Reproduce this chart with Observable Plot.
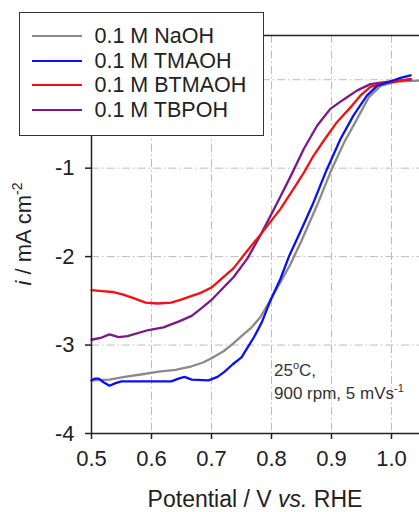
<!DOCTYPE html>
<html>
<head>
<meta charset="utf-8">
<script src="https://cdn.jsdelivr.net/npm/d3@7"></script>
<script src="https://cdn.jsdelivr.net/npm/@observablehq/plot@0.6"></script>
<style>
  body { margin: 0; background: #fff; }
  #wrap { position: relative; width: 419px; height: 512px; overflow: hidden; font-family: Arial, "Liberation Sans", sans-serif; }
  #legend { position: absolute; left: 19px; top: 12px; width: 245px; height: 124px; box-sizing: border-box;
            border: 1.5px solid #333; background: #fff; padding-top: 11px; }
  .row { display: flex; align-items: center; height: 24.5px; }
  .sw { display: inline-block; width: 50px; height: 2.4px; margin-left: 11.5px; margin-right: 13px; }
  .lt { font-size: 21.5px; color: #222; white-space: nowrap; line-height: 24.5px; }
</style>
</head>
<body>
<div id="wrap"><div id="legend"></div></div>
<script>
// ---- data ----
const seriesNames  = ["0.1 M NaOH", "0.1 M TMAOH", "0.1 M BTMAOH", "0.1 M TBPOH"];
const seriesColors = ["#8a8a8a", "#0a10f5", "#f41010", "#7a1a84"];

const naohV = [0.50,0.53,0.555,0.585,0.612,0.64,0.667,0.685,0.70,0.72,0.733,0.75,0.767,0.782,0.798,0.815,0.832,0.85,0.876,0.898,0.921,0.943,0.962,0.982,1.009,1.047];
const naohI = [-3.40,-3.39,-3.36,-3.33,-3.30,-3.28,-3.24,-3.20,-3.15,-3.07,-3.00,-2.90,-2.80,-2.68,-2.49,-2.29,-2.08,-1.82,-1.42,-1.05,-0.71,-0.44,-0.20,-0.07,-0.02,-0.01];

const tmaohV = [0.50,0.505,0.512,0.52,0.53,0.54,0.55,0.60,0.633,0.645,0.655,0.667,0.695,0.71,0.722,0.735,0.75,0.76,0.77,0.778,0.784,0.798,0.815,0.829,0.85,0.868,0.89,0.915,0.937,0.959,0.976,0.998,1.015,1.032];
const tmaohI = [-3.40,-3.38,-3.38,-3.42,-3.46,-3.43,-3.41,-3.41,-3.41,-3.38,-3.36,-3.39,-3.40,-3.36,-3.30,-3.22,-3.14,-3.03,-2.92,-2.82,-2.74,-2.50,-2.25,-2.00,-1.69,-1.42,-1.05,-0.67,-0.40,-0.18,-0.07,-0.02,0.02,0.05];

const btmaohV = [0.50,0.517,0.535,0.553,0.57,0.59,0.61,0.633,0.648,0.665,0.682,0.70,0.717,0.737,0.76,0.783,0.815,0.837,0.854,0.87,0.887,0.909,0.932,0.948,0.965,0.985,1.009,1.032];
const btmaohI = [-2.38,-2.39,-2.40,-2.43,-2.47,-2.52,-2.53,-2.52,-2.49,-2.45,-2.41,-2.35,-2.25,-2.13,-1.93,-1.74,-1.46,-1.23,-1.05,-0.86,-0.69,-0.48,-0.31,-0.18,-0.08,-0.04,-0.02,0.01];

const tbpohV = [0.50,0.515,0.53,0.545,0.56,0.595,0.62,0.647,0.667,0.682,0.70,0.72,0.737,0.76,0.783,0.809,0.832,0.854,0.876,0.898,0.921,0.943,0.965,0.985,1.009,1.032];
const tbpohI = [-2.94,-2.92,-2.88,-2.91,-2.90,-2.83,-2.80,-2.73,-2.67,-2.59,-2.49,-2.35,-2.23,-2.02,-1.74,-1.40,-1.09,-0.78,-0.52,-0.33,-0.22,-0.12,-0.05,-0.03,-0.01,0.00];

const xTicks = [0.5, 0.6, 0.7, 0.8, 0.9, 1.0];
const yTicks = [-4, -3, -2, -1, 0];
const xDomain = [0.5, 1.0467];
const yDomain = [-4, 0.5];

const noteX = 0.805;
const noteY = [-3.35, -3.61];

// ---- build table ----
const seriesV = [naohV, tmaohV, btmaohV, tbpohV];
const seriesI = [naohI, tmaohI, btmaohI, tbpohI];
const drawOrder = [0, 3, 2, 1];
const rows = [];
for (const k of drawOrder) seriesV[k].forEach((v, j) => rows.push({series: seriesNames[k], v, i: seriesI[k][j]}));

const gridStyle = {stroke: "#bcbcbc", strokeWidth: 1, strokeDasharray: "8,3,1.5,3"};
const axisLine = {stroke: "#222", strokeWidth: 1.5};

const plot = Plot.plot({
  width: 419, height: 512,
  marginLeft: 91, marginRight: 0, marginTop: 35, marginBottom: 79,
  style: {fontFamily: "Arial, 'Liberation Sans', sans-serif", background: "transparent", color: "#222"},
  x: {domain: xDomain},
  y: {domain: yDomain},
  color: {domain: seriesNames, range: seriesColors},
  marks: [
    Plot.ruleX(xTicks.slice(1), {x: d => d, ...gridStyle}),
    Plot.ruleY(yTicks.slice(1), {y: d => d, ...gridStyle}),
    Plot.line(rows, {x: "v", y: "i", z: "series", stroke: "series", strokeWidth: 2.3}),
    Plot.ruleY([yDomain[1]], axisLine),
    Plot.ruleX([xDomain[0]], axisLine),
    Plot.ruleY([yDomain[0]], axisLine),
    Plot.axisX(xTicks, {tickSize: 6, tickPadding: 11, fontSize: 22, tickFormat: d => d.toFixed(1), label: null, strokeWidth: 1.5}),
    Plot.axisY(yTicks, {tickSize: 6, tickPadding: 11, fontSize: 22, tickFormat: d => String(d), label: null, strokeWidth: 1.5})
  ]
});

const wrap = document.getElementById("wrap");
wrap.insertBefore(plot, wrap.firstChild);

const svg = d3.select(plot);
const sx = plot.scale("x"), sy = plot.scale("y");
const xr = sx.range, yr = sy.range;

// x label
const xl = svg.append("text")
  .attr("x", (xr[0] + xr[1]) / 2).attr("y", 507)
  .attr("text-anchor", "middle").attr("font-size", 23).attr("fill", "#222");
xl.append("tspan").text("Potential / V ");
xl.append("tspan").attr("font-style", "italic").text("vs.");
xl.append("tspan").text(" RHE");

// y label
const yl = svg.append("text")
  .attr("transform", `translate(31,${(yr[0] + yr[1]) / 2}) rotate(-90)`)
  .attr("text-anchor", "middle").attr("font-size", 22).attr("fill", "#222");
yl.append("tspan").attr("font-style", "italic").text("i");
yl.append("tspan").text(" / mA cm");
yl.append("tspan").attr("font-size", 14).attr("dy", -9).text("-2");

// annotation
const a1 = svg.append("text").attr("x", sx.apply(noteX)).attr("y", sy.apply(noteY[0]))
  .attr("text-anchor", "start").attr("font-size", 17).attr("fill", "#333");
a1.append("tspan").text("25");
a1.append("tspan").attr("font-size", 11).attr("dy", -7).text("o");
a1.append("tspan").attr("dy", 7).text("C,");
const a2 = svg.append("text").attr("x", sx.apply(noteX)).attr("y", sy.apply(noteY[1]))
  .attr("text-anchor", "start").attr("font-size", 17).attr("fill", "#333");
a2.append("tspan").text("900 rpm, 5 mVs");
a2.append("tspan").attr("font-size", 11).attr("dy", -7).text("-1");

// legend
const lg = d3.select("#legend");
seriesNames.forEach((name, k) => {
  const r = lg.append("div").attr("class", "row");
  r.append("span").attr("class", "sw").style("background", seriesColors[k]);
  r.append("span").attr("class", "lt").text(name);
});
</script>
</body>
</html>
